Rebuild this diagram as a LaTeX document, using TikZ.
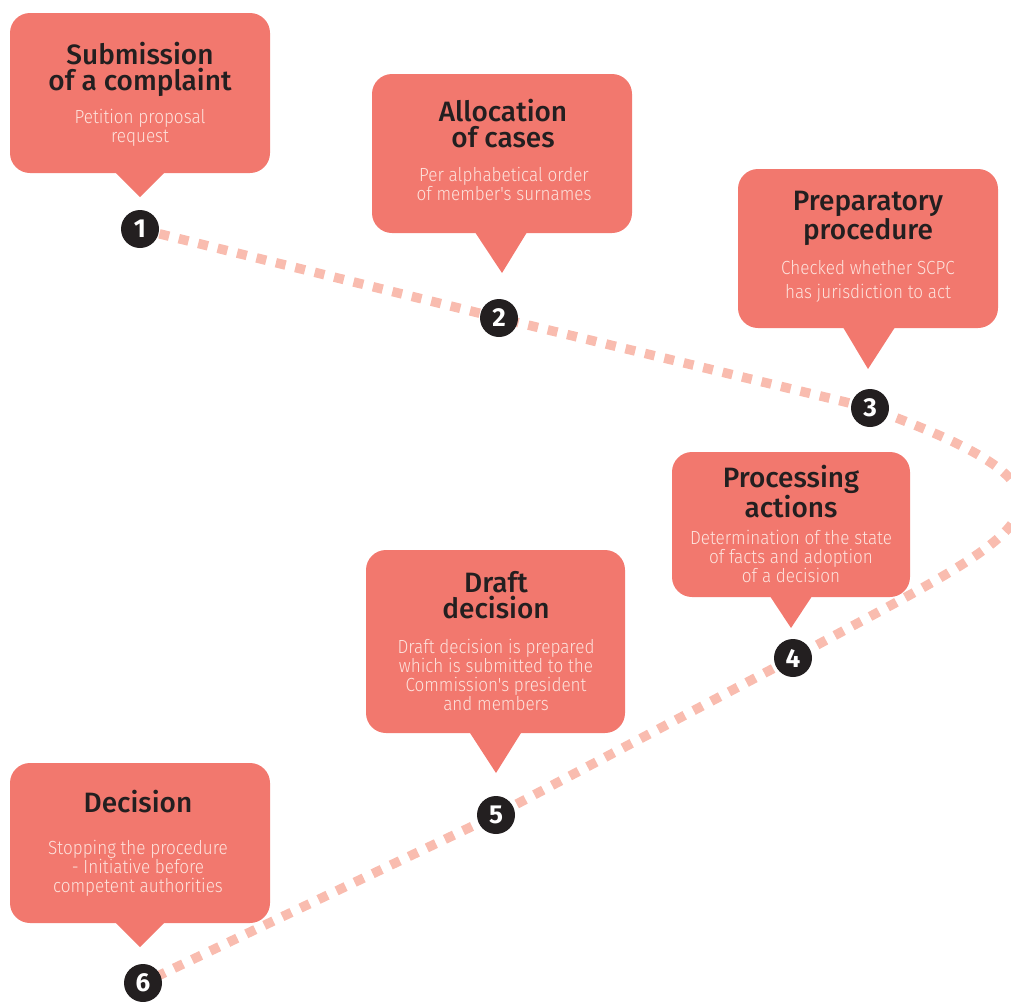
\documentclass[tikz,border=0pt]{standalone}
\usepackage{fontspec}
\setmainfont{Fira Sans}
\newfontfamily\headfont{Fira Sans Medium}
\newfontfamily\notefont{Fira Sans Light}[FakeStretch=0.9]
\usetikzlibrary{positioning, backgrounds}

\definecolor{salmon}{HTML}{F2786E}
\definecolor{blush}{HTML}{F9BCAF}
\definecolor{inkdark}{HTML}{231F20}
\definecolor{notetext}{HTML}{FDE3DD}

\tikzstyle{bubble} = [rectangle, rounded corners=20pt, fill=salmon, inner sep=0pt]
\tikzstyle{heading} = [align=center, anchor=base, text=inkdark, inner sep=0pt, font=\headfont\fontsize{28}{26}\selectfont]
\tikzstyle{note} = [align=center, anchor=base, text=notetext, inner sep=0pt, font=\notefont\fontsize{19}{18.7}\selectfont]
\tikzstyle{numdot} = [circle, fill=inkdark, text=white, minimum size=38pt, inner sep=0pt, font=\bfseries\fontsize{26}{26}\selectfont]
\tikzstyle{trail} = [blush, line width=9.5pt, dash pattern=on 10pt off 10pt]

\begin{document}
\begin{tikzpicture}[x=1pt, y=-1pt]
		\useasboundingbox (0,0) rectangle (1011,1001);
		\clip (0,0) rectangle (1011,1001);

		% speech bubbles
		\node (b1) [bubble, minimum width=260pt, minimum height=160pt] at (140,93) {};
		\node (b2) [bubble, minimum width=260pt, minimum height=159pt] at (502,153.5) {};
		\node (b3) [bubble, minimum width=260pt, minimum height=159pt] at (868,248.5) {};
		\node (b4) [bubble, minimum width=238pt, minimum height=145pt] at (791,524.5) {};
		\node (b5) [bubble, minimum width=259pt, minimum height=183pt] at (495.5,641.5) {};
		\node (b6) [bubble, minimum width=260pt, minimum height=160pt] at (140,843) {};

		\fill [salmon] ([xshift=-25pt, yshift=1pt]b1.south) -- (140,197) -- ([xshift=25pt, yshift=1pt]b1.south) -- cycle;
		\fill [salmon] ([xshift=-27pt, yshift=1pt]b2.south) -- (502,273) -- ([xshift=25pt, yshift=1pt]b2.south) -- cycle;
		\fill [salmon] ([xshift=-25pt, yshift=1pt]b3.south) -- (868,369) -- ([xshift=27pt, yshift=1pt]b3.south) -- cycle;
		\fill [salmon] ([xshift=-21pt, yshift=1pt]b4.south) -- (791,628) -- ([xshift=21pt, yshift=1pt]b4.south) -- cycle;
		\fill [salmon] ([xshift=-26pt, yshift=1pt]b5.south) -- (496,773) -- ([xshift=26pt, yshift=1pt]b5.south) -- cycle;
		\fill [salmon] ([xshift=-25pt, yshift=1pt]b6.south) -- (140,947) -- ([xshift=25pt, yshift=1pt]b6.south) -- cycle;

		% texts (anchored at the last line)
		\node (h1) [heading] at (140,90) {Submission\\of a complaint};
		\node (d1) [note] at (140,142) {Petition proposal\\request};
		\node (h2) [heading] at (503,147) {Allocation\\of cases};
		\node (d2) [note] at (504,200) {Per alphabetical order\\of member's surnames};
		\node (h3) [heading] at (868,239) {Preparatory\\procedure};
		\node (d3) [note, font=\notefont\fontsize{19}{24}\selectfont] at (868,298) {Checked whether SCPC\\has jurisdiction to act};
		\node (h4) [heading] at (791,517) {Processing\\actions};
		\node (d4) [note] at (791,582) {Determination of the state\\of facts and adoption\\of a decision};
		\node (h5) [heading] at (496,618) {Draft\\decision};
		\node (d5) [note] at (496,710) {Draft decision is prepared\\which is submitted to the\\Commission's president\\and members};
		\node (h6) [heading] at (138,812) {Decision};
		\node (d6) [note] at (138,892) {Stopping the procedure\\- Initiative before\\competent authorities};

		% numbered steps
		\node (n1) [numdot] at (140,229) {1};
		\node (n2) [numdot] at (499,318) {2};
		\node (n3) [numdot] at (870,408) {3};
		\node (n4) [numdot] at (793,658) {4};
		\node (n5) [numdot] at (496,815) {5};
		\node (n6) [numdot] at (143,983) {6};
		\coordinate (bend1) at (1124,500);
		\coordinate (bend2) at (1028,530);

		\begin{pgfonlayer}{background}
			\draw [trail] (n1.center) -- (n2.center) -- (n3.center) .. controls (bend1) and (bend2) .. (n4.center) -- (n5.center) -- (n6.center);
		\end{pgfonlayer}
	\end{tikzpicture}
\end{document}
